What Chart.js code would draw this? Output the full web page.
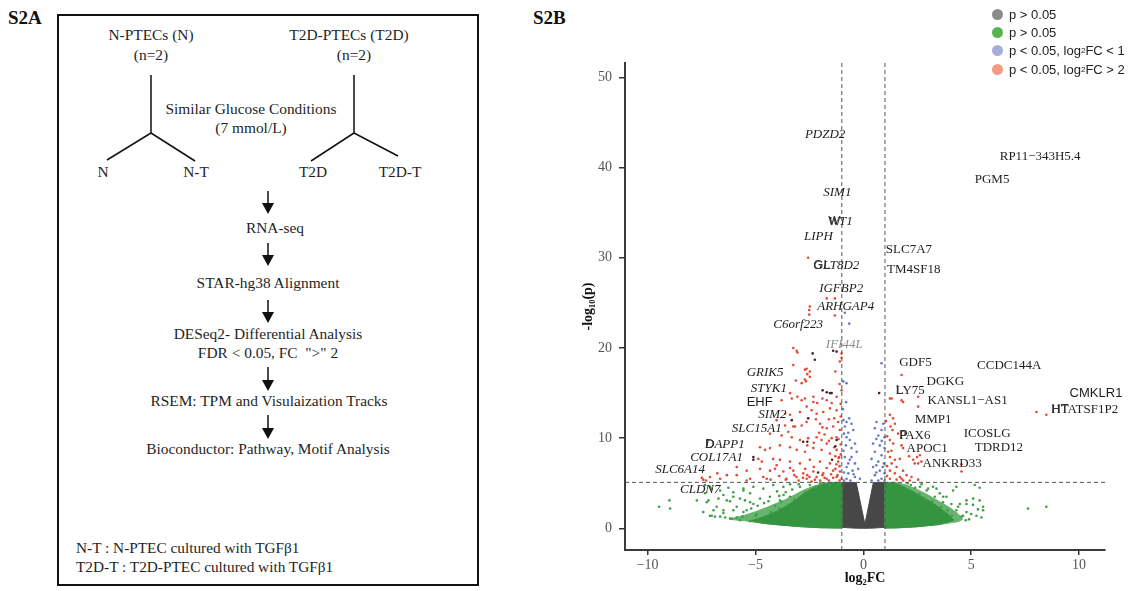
<!DOCTYPE html>
<html>
<head>
<meta charset="utf-8">
<title>S2A / S2B</title>
<script src="https://cdn.jsdelivr.net/npm/chart.js@4.4.1/dist/chart.umd.min.js"></script>
<style>
	body { margin: 0; width: 1130px; height: 591px; position: relative; overflow: hidden; background: #fff;
		font-family: "Liberation Serif", "Times New Roman", serif; color: #1f1f1f; }
	.tag { position: absolute; font-weight: bold; font-size: 19px; line-height: 1; color: #111; }
	.box { position: absolute; left: 57px; top: 14px; width: 422px; height: 572px; box-sizing: border-box; border: 2px solid #111; }
	.c { position: absolute; transform: translate(-50%, -50%); white-space: pre; font-size: 15.4px; line-height: 1; }
	.l { position: absolute; transform: translateY(-50%); white-space: pre; font-size: 15.3px; line-height: 1; }
	svg { position: absolute; left: 0; top: 0; }
	#plot { position: absolute; left: 520px; top: 0; }
	.legend { position: absolute; left: 992px; top: 5px; font-family: "Liberation Sans", Arial, sans-serif; font-size: 13px; color: #222; }
	.legend div { height: 18.3px; display: flex; align-items: center; white-space: nowrap; }
	.legend i { display: inline-block; width: 11px; height: 11px; border-radius: 50%; margin-right: 6px; }
	.legend sub { font-size: 8px; vertical-align: -2px; }
</style>
</head>
<body>

<div class="tag" style="left:8px; top:8px;">S2A</div>
<div class="tag" style="left:533px; top:8px;">S2B</div>

<div class="box"></div>
<svg width="520" height="591">
	<g stroke="#111" stroke-width="1.5" fill="none">
		<path d="M151 75 V133 L107 160 M151 133 L195 161"/>
		<path d="M354 75 V133 L311 161 M354 133 L398 156"/>
		<path d="M268 191 V205 M268 243 V257 M268 300 V314 M268 367 V382 M268 415 V430"/>
	</g>
	<g fill="#111">
		<path d="M262 203 L274 203 L268 214 Z"/>
		<path d="M262 255 L274 255 L268 266 Z"/>
		<path d="M262 312 L274 312 L268 323 Z"/>
		<path d="M262 380 L274 380 L268 391 Z"/>
		<path d="M262 428 L274 428 L268 439 Z"/>
	</g>
</svg>

<div class="c" style="left:151px; top:35px;">N-PTECs (N)</div>
<div class="c" style="left:151px; top:55px;">(n=2)</div>
<div class="c" style="left:349px; top:35px;">T2D-PTECs (T2D)</div>
<div class="c" style="left:354px; top:55px;">(n=2)</div>
<div class="c" style="left:251px; top:109px;">Similar Glucose Conditions</div>
<div class="c" style="left:251px; top:128px;">(7 mmol/L)</div>
<div class="c" style="left:103px; top:172px;">N</div>
<div class="c" style="left:196px; top:172px;">N-T</div>
<div class="c" style="left:313px; top:172px;">T2D</div>
<div class="c" style="left:400px; top:172px;">T2D-T</div>
<div class="c" style="left:275px; top:228px;">RNA-seq</div>
<div class="c" style="left:268px; top:283px;">STAR-hg38 Alignment</div>
<div class="c" style="left:268px; top:334px;">DESeq2- Differential Analysis</div>
<div class="c" style="left:268px; top:353px;">FDR &lt; 0.05, FC  "&gt;" 2</div>
<div class="c" style="left:269px; top:401px;">RSEM: TPM and Visulaization Tracks</div>
<div class="c" style="left:268px; top:449px;">Bioconductor: Pathway, Motif Analysis</div>
<div class="l" style="left:76px; top:548px;">N-T : N-PTEC cultured with TGFβ1</div>
<div class="l" style="left:76px; top:567px;">T2D-T : T2D-PTEC cultured with TGFβ1</div>

<canvas id="plot" width="610" height="591"></canvas>

<div class="legend">
	<div><i style="background:#8a8a8a"></i>p &gt; 0.05</div>
	<div><i style="background:#58b54c"></i>p &gt; 0.05</div>
	<div><i style="background:#a4aedb"></i>p &lt; 0.05, log<sub>2</sub>FC &lt; 1</div>
	<div><i style="background:#f39a80"></i>p &lt; 0.05, log<sub>2</sub>FC &gt; 2</div>
</div>

<script>
const xTicks = [-10, -5, 0, 5, 10];
const yTicks = [0, 10, 20, 30, 40, 50];
const xRange = [-11.05, 11.2];
const yRange = [-2.4, 51.6];
const fcCut = [-1, 1];
const pCut = 5.1;

// dense clouds, read as outlines (outer = thinner spread, inner = solid core)
const grayCore = [[-1,5.1],[-0.6,5.1],[-0.33,5.05],[0.07,0.45],[0.46,5.05],[0.7,5.1],[1.0,5.1],[1.0,0.12],[0.5,0.03],[0,0],[-0.5,0.03],[-1,0.12],[-1,5.1]];
const greenLeftOuter = [[-1,5.1],[-1.5,5.1],[-2.0,4.9],[-2.4,4.6],[-2.8,4.2],[-3.2,3.7],[-3.6,3.2],[-4.0,2.8],[-4.5,2.3],[-5.0,1.85],[-5.5,1.45],[-6.0,1.15],[-6.2,1.0],[-6.0,0.95],[-5.5,0.85],[-5.0,0.68],[-4.5,0.52],[-4.0,0.4],[-3.5,0.3],[-3.0,0.2],[-2.5,0.12],[-2.0,0.07],[-1.5,0.04],[-1,0.03],[-1,5.1]];
const greenLeftInner = [[-1,5.1],[-1.8,5.0],[-2.4,4.4],[-2.9,3.6],[-3.4,2.7],[-4.0,1.9],[-4.7,1.2],[-5.2,0.85],[-5.0,0.7],[-4.5,0.52],[-4.0,0.4],[-3.5,0.3],[-3.0,0.2],[-2.0,0.07],[-1,0.03],[-1,5.1]];
const greenRightOuter = [[1,5.1],[1.5,5.1],[2.0,4.8],[2.5,4.3],[3.0,3.7],[3.5,3.0],[4.0,2.3],[4.4,1.6],[4.6,1.0],[4.4,0.75],[4.0,0.6],[3.5,0.42],[3.0,0.3],[2.5,0.18],[2.0,0.1],[1.5,0.05],[1,0.03],[1,5.1]];
const greenRightInner = [[1,5.1],[1.6,4.9],[2.2,4.2],[2.8,3.4],[3.4,2.5],[3.9,1.6],[4.2,0.9],[3.5,0.42],[2.5,0.18],[1.5,0.05],[1,0.03],[1,5.1]];

const greenPoints = [
	[-9.47,2.4],[-8.99,3.1],[-8.96,2.2],[-7.72,3.1],[-7.03,1.4],[-6.88,1.3],[-6.64,1.3],[-6.41,1.2],[-6.10,1.1],[-5.87,1.2],
	[-7.34,4.8],[-7.03,4.4],[-6.64,4.2],[-6.26,4.5],[-7.18,3.1],[-6.80,2.4],[-6.33,3.1],[-6.03,3.5],[-6.49,2.0],[-5.56,4.4],
	[-5.25,3.9],[-5.49,3.1],[-5.10,2.7],[-4.79,3.3],[-5.87,2.4],[-5.41,2.0],[-4.94,1.6],[-7.11,4.6],[-7.34,3.9],[-6.49,3.7],
	[-6.03,4.0],[-5.56,4.2],[-5.10,4.6],[-4.64,4.4],[-4.18,4.8],[-3.71,4.6],[-3.40,4.9],[-2.94,4.6],[-2.48,4.8],[-2.01,5.0],
	[-1.55,4.8],[-1.17,4.9],[-7.26,2.9],[-6.72,3.3],[-6.18,3.0],[-5.72,3.3],[-5.25,2.9],[-4.33,3.5],[-3.87,3.1],[-3.40,3.5],
	[-7.42,1.8],[-6.95,2.0],[-6.49,1.7],[-6.03,2.0],[-5.56,1.8],[-7.11,1.4],[-6.18,1.1],[-5.72,0.9],[-5.25,0.8],[-4.79,0.7],
	[-3.9,3.6],[-3.6,4.0],[-3.3,4.3],[-3.0,4.9],[-4.4,3.0],[-4.0,4.1],[-4.9,2.5],[-5.2,2.2],[-4.6,2.8],[-3.8,2.95],
	[-3.5,2.6],[-3.9,2.2],[-4.3,1.8],[-4.1,2.5],[-3.7,3.7],[-3.2,3.2],[-2.7,4.0],[-2.2,4.6],[-5.6,1.3],[-5.0,1.4],
	[2.62,4.6],[2.93,4.2],[3.23,4.6],[3.54,3.9],[3.85,3.5],[4.16,4.2],[4.31,4.6],[2.85,3.3],[3.31,3.5],[3.69,2.9],
	[4.08,2.7],[4.39,2.4],[4.78,2.7],[5.08,2.6],[5.39,3.1],[5.55,2.0],[4.78,1.8],[5.24,1.4],[4.55,1.3],[5.16,4.8],
	[5.39,4.5],[5.09,3.3],[5.55,2.4],[5.31,2.1],[5.47,1.2],[7.63,2.2],[8.48,2.4],[4.47,2.7],[4.78,3.1],[4.31,2.0],
	[4.62,1.4],[3.70,3.5],[3.39,4.4],[2.2,4.8],[2.4,4.5],[2.05,5.0],[2.7,4.9],[3.0,4.4],[4.9,1.0],[4.75,0.9],[5.0,1.6],
	[3.6,2.4],[3.9,2.0],[3.2,3.0],[2.6,3.8],[4.1,1.4],[3.7,1.8]
];

const bluePoints = [
	[-0.86,23.9],[-0.66,22.7],[-0.93,16.3],[-0.78,16.1],[-0.93,12.0],[-0.78,11.8],[-0.66,12.2],[-0.55,11.6],[-0.86,11.3],[-0.47,10.9],
	[-0.78,10.1],[-0.63,9.8],[-0.39,9.4],[-0.81,9.2],[-0.55,8.9],[-0.31,8.5],[-0.86,7.9],[-0.63,7.6],[-0.39,7.2],[-0.78,6.8],
	[-0.50,6.4],[-0.24,6.6],[-0.70,6.1],[-0.39,5.7],[-0.16,5.5],[-0.78,5.5],[-0.9,5.3],[-0.6,5.3],[-0.45,6.0],[-0.9,6.2],
	[-0.7,7.2],[-0.92,8.6],[-0.55,7.9],[-0.9,10.5],[-0.7,10.6],[-0.95,13.2],[-0.8,14.0],
	[0.84,18.3],[0.61,11.8],[0.92,11.6],[0.53,11.1],[0.84,10.9],[0.69,10.3],[0.98,10.1],[0.45,9.4],[0.76,9.2],
	[0.98,8.9],[0.53,8.5],[0.84,8.1],[0.38,7.7],[0.69,7.4],[0.95,7.2],[0.45,6.8],[0.76,6.4],[0.98,6.1],[0.53,5.9],
	[0.84,5.5],[0.38,5.3],[0.69,5.3],[0.98,5.3],[0.6,6.2],[0.9,6.8],[0.6,7.0],[0.85,9.7],[0.6,9.9]
];

const redPoints = [
	[-2.56,30.0],[-2.48,24.6],[-2.51,24.2],[-2.51,23.7],[-1.70,25.5],[-1.32,25.5],[-1.32,23.6],[-3.25,20.0],[-3.09,19.7],[-1.01,19.4],
	[-1.01,18.9],[-1.09,18.5],[-3.25,18.1],[-2.63,17.7],[-2.48,17.4],[-2.71,16.5],[-2.66,16.3],[-3.13,16.4],[-1.01,15.3],[-3.32,14.4],
	[-2.86,14.2],[-2.32,14.0],[-2.14,13.9],[-1.70,14.2],[-1.47,13.9],[-3.06,19.5],[-2.71,17.6],[-2.60,17.1],[-2.48,16.8],[-2.86,16.1],
	[-3.40,15.0],[-3.06,14.6],[-2.71,14.4],[-2.32,14.6],[-3.79,14.2],[-1.24,14.6],[-2.63,13.5],[-2.40,13.1],[-2.94,12.9],[-2.17,12.7],
	[-1.86,12.9],[-1.55,13.3],[-1.24,13.1],[-3.40,12.6],[-2.63,11.8],[-4.02,12.0],[-3.63,11.4],[-3.17,11.3],[-2.86,11.4],[-2.01,11.6],
	[-1.70,11.1],[-1.40,11.3],[-1.17,11.8],[-1.09,10.9],[-1.24,10.1],[-4.33,10.5],[-3.79,10.3],[-3.32,10.1],[-2.94,9.8],[-2.56,10.0],
	[-2.17,10.1],[-1.94,9.8],[-1.70,9.4],[-1.47,10.0],[-4.79,9.0],[-4.33,8.9],[-3.87,9.2],[-3.40,9.0],[-3.09,8.7],[-2.71,8.5],
	[-2.32,8.9],[-1.94,8.7],[-1.55,8.3],[-1.24,8.7],[-1.12,7.9],[-4.87,7.7],[-4.18,7.7],[-3.87,7.6],[-3.40,7.4],[-2.94,7.2],
	[-2.48,7.6],[-2.01,7.4],[-1.55,7.2],[-1.17,7.4],[-5.87,6.8],[-5.41,6.4],[-4.79,6.6],[-4.33,6.4],[-3.71,6.3],[-3.25,6.4],
	[-2.79,6.1],[-2.32,6.3],[-1.86,6.1],[-1.40,6.4],[-1.09,6.3],[-3.56,5.5],[-3.10,5.7],[-2.63,5.5],[-2.17,5.7],[-1.70,5.5],
	[-1.24,5.7],[-1.01,5.5],[-7.11,5.7],[-6.64,5.5],[-6.33,5.9],[-7.42,5.4],[-5.25,5.5],[-4.64,5.7],[-6.77,6.1],[-4.71,7.4],
	[-7.29,5.3],[-7.49,5.6],[-5.87,5.9],[-5.41,5.3],[-4.48,5.5],[-4.02,7.0],[-3.48,10.7],[-3.25,11.3],[-3.63,12.7],[-4.56,8.7],
	[-1.1,5.3],[-1.2,5.9],[-1.3,6.6],[-1.1,6.9],[-1.25,7.1],[-1.15,7.8],[-1.05,8.2],[-1.3,8.0],[-1.4,5.6],[-1.6,5.3],
	[-1.8,5.6],[-2.0,5.3],[-2.25,5.4],[-2.4,5.2],[-2.6,5.9],[-2.8,5.6],[-3.0,5.3],[-1.5,6.0],[-1.7,6.7],[-1.9,5.9],
	[-2.3,6.8],[-2.5,5.7],[-2.7,6.6],[-3.2,5.9],[-3.4,6.7],[-3.6,5.4],[-3.9,5.8],[-4.1,6.6],[-4.3,5.4],[-1.05,9.3],
	[-1.15,9.9],[-1.35,9.0],[-1.6,9.7],[-1.8,10.4],[-2.05,10.6],[-2.3,9.5],[-2.6,9.2],[-1.35,12.2],[-1.6,12.1],[-1.9,11.2],
	[-2.2,12.1],[-1.9,14.4],[-1.05,12.4],[-1.05,13.8],[-1.1,16.0],[-1.3,17.4],
	[1.77,17.0],[1.31,14.4],[1.77,14.2],[2.54,13.5],[1.23,12.6],[1.38,12.2],[1.26,11.3],[1.46,11.6],[1.35,10.9],[1.61,10.5],
	[1.77,9.2],[1.84,8.9],[1.23,9.8],[1.38,9.4],[1.23,7.9],[1.46,7.6],[1.69,7.7],[1.31,7.2],[1.54,6.8],[1.84,6.4],
	[1.23,6.4],[1.46,6.1],[1.69,5.7],[2.0,5.9],[2.23,5.7],[1.23,5.5],[1.54,5.4],[1.84,5.3],[2.15,5.3],[2.38,7.2],
	[2.62,8.1],[2.49,7.9],[4.55,7.1],[2.12,8.0],[2.31,7.6],[2.54,7.2],[2.69,7.4],[4.55,6.3],[1.77,5.5],[2.54,5.4],
	[8.02,12.9],[8.48,12.6],[1.23,14.4],[1.84,14.0],[2.54,14.6],[1.1,5.8],[1.1,6.9],[1.15,8.5],[1.1,10.2],[1.3,8.6],[1.05,11.9]
];

const darkPoints = [
	[-2.35,19.4],[-2.25,18.7],[-1.40,19.7],[-1.89,15.3],[-1.70,15.1],[-1.47,15.0],[-1.24,19.6],[-1.55,15.0],[-2.56,12.2],[-2.79,9.6],
	[-2.60,9.6],[-5.10,7.9],[-5.10,7.6],[-3.32,12.0],[0.73,15.0],[-1.3,9.1],[-1.45,7.6],[-2.1,6.2],[-1.24,9.8]
];

const geneNames = ["PDZD2","SIM1","WT1","LIPH","GLT8D2","IGFBP2","ARHGAP4","C6orf223","IFI44L","GRIK5","STYK1","EHF","SIM2","SLC15A1","DAPP1","COL17A1","SLC6A14","CLDN7",
	"RP11\u2212343H5.4","PGM5","SLC7A7","TM4SF18","GDF5","CCDC144A","DGKG","LY75","KANSL1\u2212AS1","CMKLR1","HTATSF1P2","MMP1","PAX6","ICOSLG","APOC1","TDRD12","ANKRD33"];
const labelX = [-2.71,-1.86,-1.63,-2.75,-2.32,-2.05,-2.14,-4.18,-1.74,-5.41,-5.22,-5.41,-4.87,-6.10,-7.34,-8.03,-9.65,-8.50,
	6.32,5.16,1.04,1.10,1.66,5.27,2.93,1.50,2.97,9.56,8.71,2.38,1.66,4.65,2.00,5.16,2.74];
const labelY = [43.7,37.2,34.0,32.3,29.1,26.6,24.6,22.6,20.4,17.3,15.5,14.0,12.6,11.1,9.3,7.86,6.5,4.33,
	41.2,38.7,30.9,28.7,18.4,18.1,16.3,15.3,14.2,15.0,13.2,12.1,10.3,10.5,8.86,8.97,7.19];

const serif = '"Liberation Serif", "Times New Roman", serif';
const sans = '"Liberation Sans", Arial, sans-serif';
const sansGenes = ["EHF", "CMKLR1"];
const sansPrefix = {GLT8D2: "GL", DAPP1: "D", LY75: "L", PAX6: "P", HTATSF1P2: "HT", WT1: "W"};

const toXY = arr => arr.map(([x, y]) => ({x, y}));

function dots(data, color, order) {
	return {data: toXY(data), backgroundColor: color, borderWidth: 0, pointRadius: 1.3, order};
}

function area(data, color, order) {
	return {data: toXY(data), showLine: true, fill: "shape", backgroundColor: color, borderColor: color,
		borderWidth: 1, pointRadius: 0, order};
}

function guide(data) {
	return {data: toXY(data), showLine: true, borderColor: "#555", borderWidth: 1, borderDash: [4, 3], pointRadius: 0, order: 0};
}

const geneLabels = {
	id: "geneLabels",
	afterDatasetsDraw(chart) {
		const {ctx, scales: {x, y}} = chart;
		ctx.save();
		ctx.textBaseline = "middle";
		geneNames.forEach((g, i) => {
			const px = x.getPixelForValue(labelX[i]);
			const py = y.getPixelForValue(labelY[i]);
			const left = labelX[i] < 0;
			if (sansGenes.includes(g)) ctx.font = "13px " + sans;
			else ctx.font = (left ? "italic " : "") + "13px " + serif;
			ctx.fillStyle = g === "IFI44L" ? "#8c8c8c" : "#1e1e1e";
			ctx.fillText(g, px, py);
			if (sansPrefix[g]) {
				ctx.font = "13px " + sans;
				ctx.fillStyle = "#333";
				ctx.fillText(sansPrefix[g], px, py);
			}
		});
		ctx.restore();
	}
};

const minus = v => String(v).replace("-", "\u2212");

new Chart(document.getElementById("plot"), {
	type: "scatter",
	data: {
		datasets: [
			area(grayCore, "#474747", 7),
			area(greenLeftOuter, "#68b46e", 6),
			area(greenRightOuter, "#68b46e", 6),
			area(greenLeftInner, "#35943f", 5),
			area(greenRightInner, "#35943f", 5),
			dots(greenPoints, "#3f9f49", 4),
			dots(bluePoints, "#6679c4", 3),
			dots(redPoints, "#e24a33", 2),
			dots(darkPoints, "#4a2222", 1),
			guide([[fcCut[0], yRange[0]], [fcCut[0], yRange[1]]]),
			guide([[fcCut[1], yRange[0]], [fcCut[1], yRange[1]]]),
			guide([[xRange[0], pCut], [xRange[1], pCut]])
		]
	},
	options: {
		responsive: false,
		devicePixelRatio: 1,
		animation: false,
		events: [],
		layout: {padding: {left: 0, right: 25, top: 63, bottom: 0}},
		plugins: {legend: {display: false}, tooltip: {enabled: false}},
		scales: {
			x: {
				type: "linear", min: xRange[0], max: xRange[1],
				afterBuildTicks: s => { s.ticks = xTicks.map(value => ({value})); },
				afterFit: s => { s.height = 41; },
				grid: {drawOnChartArea: false, drawTicks: true, tickLength: 5, color: "#333", lineWidth: 1.5},
				border: {display: true, color: "#3a3a3a", width: 2},
				ticks: {color: "#555", font: {family: serif, size: 14}, padding: 2, callback: minus},
				title: {display: true, text: "log\u2082FC", color: "#111", font: {family: serif, size: 14, weight: "bold"}, padding: {top: 0, bottom: 4.6}}
			},
			y: {
				type: "linear", min: yRange[0], max: yRange[1],
				afterBuildTicks: s => { s.ticks = yTicks.map(value => ({value})); },
				afterFit: s => { s.width = 105; },
				grid: {drawOnChartArea: false, drawTicks: true, tickLength: 6, color: "#333", lineWidth: 1.5},
				border: {display: true, color: "#3a3a3a", width: 2},
				ticks: {color: "#555", font: {family: serif, size: 14}, padding: 7, callback: minus},
				title: {display: true, text: "-log\u2081\u2080(p)", color: "#111", font: {family: serif, size: 14, weight: "bold"}, padding: {top: 59.6, bottom: 0}}
			}
		}
	},
	plugins: [geneLabels]
});
</script>
</body>
</html>
